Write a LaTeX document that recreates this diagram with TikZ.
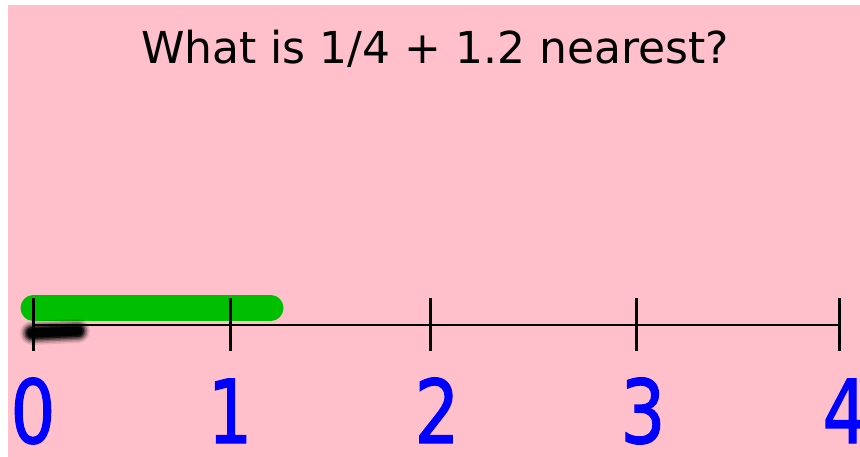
\documentclass[tikz,border=0pt]{standalone}
\usepackage{fontspec}
\setmainfont{DejaVu Sans}
\newfontfamily\digitfont{DejaVu Sans}[BoldFont={DejaVu Sans}, BoldFeatures={FakeBold=1.6}]
\definecolor{pinkbg}{RGB}{255,192,203}
\definecolor{numblue}{RGB}{0,0,255}
\definecolor{bargreen}{RGB}{0,190,0}
\newcommand{\narrowdigit}[1]{\scalebox{0.8}[1]{\digitfont\bfseries #1}}
\begin{document}
\begin{tikzpicture}[x=1pt,y=-1pt,
  num/.style={text=numblue, font=\fontsize{88}{88}\selectfont, inner sep=0pt, anchor=base},
  tickline/.style={line width=3pt, black},
  axisline/.style={line width=2.8pt, black},
  titletext/.style={font=\fontsize{44}{48}\selectfont, inner sep=0pt, text=black, anchor=base}]
\useasboundingbox (0,0) rectangle (860,457);
\clip (0,0) rectangle (860,457);
\fill[white] (0,0) rectangle (860,457);
\fill[pinkbg] (8,5) rectangle (860,457);
\node[titletext] (title) at (435,64) {What is 1/4 + 1.2 nearest?};
% tick coordinates
\foreach \n/\x in {0/33,1/230,2/430,3/636,4/839}{
  \coordinate (t\n top) at (\x,298);
  \coordinate (t\n bot) at (\x,351);
  \coordinate (t\n) at (\x,325);
}
% green bar
\coordinate (gA) at (33,308);
\coordinate (gB) at (271,308);
\draw[bargreen, line width=25pt, line cap=round] (gA) -- (gB);
% axis
\draw[axisline] (t0) -- (t4);
\foreach \n in {0,...,4}{ \draw[tickline] (t\n top) -- (t\n bot); }
% smudge
\coordinate (sA) at (32,333);
\coordinate (sB) at (78,331);
\foreach \w/\o in {24/0.1,21/0.15,18/0.25,15/0.4,12/0.65,9/0.95}{
  \draw[black, opacity=\o, line width=\w pt, line cap=round] (sA) -- (sB);
}
% numbers
\node[num] (n0) at (33,443) {\narrowdigit{0}};
\node[num] (n1) at (230,443) {\narrowdigit{1}};
\node[num] (n2) at (437,443) {\narrowdigit{2}};
\node[num] (n3) at (643,443) {\narrowdigit{3}};
\node[num] (n4) at (845,443) {\narrowdigit{4}};
\end{tikzpicture}
\end{document}
